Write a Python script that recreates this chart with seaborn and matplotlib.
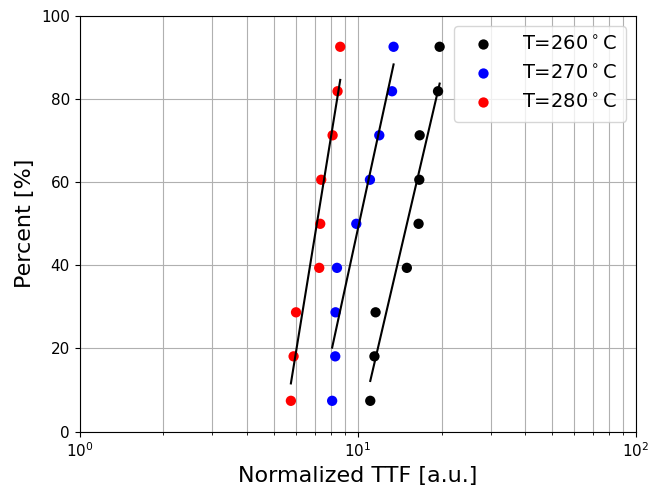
import numpy as np
import pandas as pd
import matplotlib
matplotlib.use("Agg")
import matplotlib.pyplot as plt
import seaborn as sns

# Cumulative failure percentage (median ranks) shared by all three lots
percent = [7.4, 18.1, 28.7, 39.4, 50.0, 60.6, 71.3, 81.9, 92.6]

# Normalized time-to-failure for each stress temperature
ttf_260 = [11.09, 11.48, 11.59, 15.01, 16.54, 16.64, 16.69, 19.43, 19.69]
ttf_270 = [8.09, 8.30, 8.32, 8.42, 9.88, 11.06, 11.95, 13.28, 13.45]
ttf_280 = [5.75, 5.88, 6.00, 7.27, 7.33, 7.39, 8.12, 8.46, 8.65]

labels = [r"T=260$^\circ$C", r"T=270$^\circ$C", r"T=280$^\circ$C"]
colors = ["black", "blue", "red"]

frames = []
for lab, vals in zip(labels, [ttf_260, ttf_270, ttf_280]):
    frames.append(pd.DataFrame({"ttf": vals, "percent": percent, "temp": lab}))
df = pd.concat(frames, ignore_index=True)

fig = plt.figure(figsize=(6.48, 4.86), dpi=100)
ax = fig.add_axes([0.1227, 0.112, 0.8588, 0.855])
ax.set_xscale("log")

sns.scatterplot(data=df, x="ttf", y="percent", hue="temp", hue_order=labels,
                palette=dict(zip(labels, colors)), s=55, linewidth=0,
                ax=ax, zorder=3)

# Least-squares fit of percent against log(TTF) for each temperature
for lab in labels:
    sub = df[df["temp"] == lab]
    sns.regplot(data=sub, x="ttf", y="percent", logx=True, ci=None,
                scatter=False, color="black", line_kws={"lw": 1.5, "zorder": 4},
                ax=ax)

ax.set_xlim(1, 100)
ax.set_ylim(0, 100)
ax.set_yticks([0, 20, 40, 60, 80, 100])
ax.grid(True, which="both", axis="x", color="#b0b0b0", lw=0.8)
ax.grid(True, which="major", axis="y", color="#b0b0b0", lw=0.8)
ax.set_axisbelow(True)
ax.tick_params(labelsize=11)
ax.set_xlabel("Normalized TTF [a.u.]", fontsize=16)
ax.set_ylabel("Percent [%]", fontsize=16)

leg = ax.legend(loc="upper right", fontsize=14, handletextpad=1.0,
                labelspacing=0.5, borderpad=0.5)

fig.savefig("out.png", dpi=100)
